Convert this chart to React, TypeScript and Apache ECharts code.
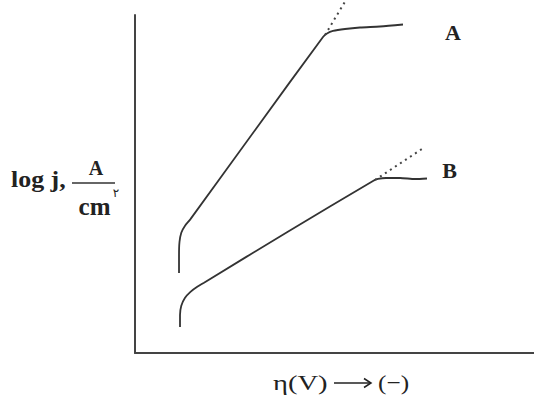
import React, { useEffect, useRef } from "react";
import * as echarts from "echarts";

// Curve A: [eta, log j] in arbitrary axis units (0..100)
const curveA: [number, number][] = [
  [11.03, 23.67], [11.03, 28.99], [11.15, 32.84], [11.6, 35.6], [12.5, 37.6],
  [13.9, 39.6], [30.3, 66.3], [47.12, 93.49], [48.12, 94.53], [49.62, 95.27],
  [52.63, 95.86], [56.39, 96.3], [61.4, 96.6], [67.17, 97.19],
];
const tafelA: [number, number][] = [[47.62, 94.08], [52.88, 104.44]];

const curveB: [number, number][] = [
  [11.28, 7.69], [11.28, 11.24], [11.6, 14.0], [12.5, 16.3], [13.9, 18.1],
  [15.6, 19.6], [17.3, 20.8], [38.3, 35.9], [59.65, 50.89], [60.9, 51.48],
  [62.91, 51.78], [66.42, 51.78], [70.18, 51.48], [73.18, 51.63],
];
const tafelB: [number, number][] = [[60.15, 51.18], [72.68, 60.95]];

const curveLabels = ["A", "B"];
const yLabelMain = "log j,";
const yLabelNum = "A";
const yLabelDen = "cm";
const yLabelSup = "۲";
const xLabelLeft = "η(V)";
const xLabelRight = "(−)";

export default function App() {
  const ref = useRef<HTMLDivElement>(null);
  useEffect(() => {
    if (!ref.current) return;
    const chart = echarts.init(ref.current, undefined, { renderer: "svg" });
    const serif = "Liberation Serif";
    const lineStyle = { color: "#333", width: 1.8 };
    const t = (x: number, y: number, text: string, size: number, bold: boolean, align = "center", sx = 1, family = serif) => ({
      type: "text", x, y, scaleX: sx,
      style: { text, fontSize: size, fontWeight: bold ? "bold" : "normal", fontFamily: family, fill: "#222", align, verticalAlign: "middle" },
    });
    chart.setOption({
      animation: false,
      backgroundColor: "#fff",
      grid: { left: 135, right: 0, top: 15, bottom: 44 },
      xAxis: {
        type: "value", min: 0, max: 100,
        axisLine: { lineStyle: { color: "#444", width: 2 } },
        axisTick: { show: false }, axisLabel: { show: false }, splitLine: { show: false },
      },
      yAxis: {
        type: "value", min: 0, max: 100,
        axisLine: { show: true, lineStyle: { color: "#444", width: 2 } },
        axisTick: { show: false }, axisLabel: { show: false }, splitLine: { show: false },
      },
      series: [
        { type: "line", data: curveA, smooth: 0.25, showSymbol: false, lineStyle, clip: false },
        { type: "line", data: curveB, smooth: 0.25, showSymbol: false, lineStyle, clip: false },
        { type: "line", data: tafelA, showSymbol: false, clip: false,
          lineStyle: { color: "#444", width: 2, type: [2, 4] } },
        { type: "line", data: tafelB, showSymbol: false, clip: false,
          lineStyle: { color: "#444", width: 2, type: [2, 4] } },
      ],
      graphic: [
        t(453, 32, curveLabels[0], 22, true),
        t(449.5, 170, curveLabels[1], 22, true),
        t(11, 179, yLabelMain, 24, true, "left", 1.08),
        t(96, 168, yLabelNum, 20, true),
        { type: "line", shape: { x1: 72, y1: 183, x2: 115, y2: 183 }, style: { stroke: "#333", lineWidth: 1.5 } },
        t(94.5, 206, yLabelDen, 25, true),
        t(116, 193, yLabelSup, 12, false, "center", 1, "DejaVu Sans"),
        t(273, 383, xLabelLeft, 22, false, "left", 1.3),
        { type: "line", shape: { x1: 334, y1: 383, x2: 370, y2: 383 }, style: { stroke: "#222", lineWidth: 1.5 } },
        { type: "polyline", shape: { points: [[364, 378.5], [371, 383], [364, 387.5]] }, style: { stroke: "#222", lineWidth: 1.5, fill: null } },
        t(378, 383, xLabelRight, 22, false, "left", 1.15),
      ],
    });
    return () => chart.dispose();
  }, []);
  return <div ref={ref} style={{ width: 534, height: 397, position: "absolute", left: 0, top: 0 }} />;
}
